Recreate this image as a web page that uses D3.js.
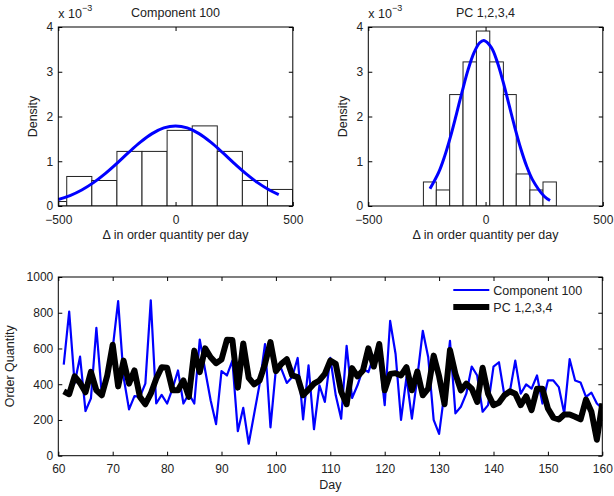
<!DOCTYPE html>
<html lang="en">
<head>
<meta charset="UTF-8">
<title>Order quantity</title>
<style>
    body { margin:0; background:#fff; }
    svg text { font-family: "Liberation Sans", Arial, sans-serif; fill:#222; }
    .axis path { display:none; }
    .axis line { stroke:#000; }
    .axis text { font-size:12px; }
</style>
</head>
<body>
<svg id="chart"></svg>

<script src="https://cdn.jsdelivr.net/npm/d3@7"></script>
<script>

// histogram, Component 100 (density in units of 1e-3)
var leftEdges = [-571, -464, -357, -250, -143, -36, 71, 178, 285, 392, 499];
var leftDensity = [0.10, 0.66, 0.57, 1.22, 1.22, 1.69, 1.79, 1.22, 0.57, 0.37];
var leftFitX = [-500, -450, -400, -350, -300, -250, -200, -150, -100, -50, 0, 50, 100, 150, 200, 250, 300, 350, 400, 440];
var leftFitY = [0.145, 0.234, 0.358, 0.522, 0.724, 0.954, 1.197, 1.427, 1.618, 1.745, 1.789, 1.745, 1.618, 1.427, 1.197, 0.954, 0.724, 0.522, 0.358, 0.256];

// histogram, PC 1,2,3,4
var rightEdges = [-265, -210, -153, -96, -39, 18, 76, 131, 189, 245, 302];
var rightDensity = [0.537, 0.358, 2.49, 3.22, 3.91, 3.22, 2.49, 0.716, 0.358, 0.537];
var rightFitX = [-237, -200, -175, -150, -125, -100, -75, -50, -25, -7, 25, 50, 75, 100, 125, 150, 175, 200, 250, 275];
var rightFitY = [0.383, 0.749, 1.103, 1.539, 2.037, 2.553, 3.035, 3.418, 3.649, 3.70, 3.541, 3.219, 2.774, 2.264, 1.753, 1.286, 0.894, 0.589, 0.218, 0.122];

// time series
var days = d3.range(61, 161);
var component100 = [510, 806, 405, 554, 250, 321, 716, 340, 480, 600,
    865, 440, 259, 333, 330, 403, 869, 292, 340, 292,
    375, 477, 292, 347, 292, 650, 477, 310, 177, 473,
    449, 532, 137, 268, 67, 233, 400, 625, 159, 486,
    486, 407, 440, 547, 203, 505, 148, 394, 301, 547,
    338, 207, 615, 323, 394, 486, 468, 560, 560, 283,
    754, 569, 200, 440, 207, 440, 699, 551, 200, 122,
    357, 643, 237, 274, 347, 499, 449, 246, 283, 499,
    523, 338, 357, 532, 347, 399, 375, 449, 292, 421,
    421, 384, 237, 540, 421, 410, 329, 353, 292, 264];
var pc1234 = [360, 344, 444, 407, 355, 469, 366, 338, 449, 621,
    388, 532, 403, 477, 329, 288, 347, 431, 495, 492,
    366, 366, 421, 329, 588, 468, 601, 551, 518, 538,
    649, 647, 381, 628, 436, 399, 421, 514, 636, 473,
    514, 540, 449, 440, 338, 370, 403, 421, 458, 532,
    514, 357, 288, 490, 444, 477, 601, 499, 625, 366,
    458, 462, 449, 495, 366, 471, 338, 375, 560, 444,
    288, 591, 458, 366, 403, 375, 301, 492, 347, 283,
    296, 338, 360, 347, 283, 333, 255, 375, 375, 264,
    213, 203, 231, 231, 218, 203, 314, 246, 89, 292];

var histTicksX = [-500, 0, 500];
var histTicksY = [0, 1, 2, 3, 4];
var seriesTicksX = d3.range(60, 161, 10);
var seriesTicksY = [0, 200, 400, 600, 800, 1000];

var svgWidth = 614, svgHeight = 496;
var svg = d3.select('#chart')
    .attr('width', svgWidth)
    .attr('height', svgHeight);

var tick = 4;
var fmt = d3.format('d');

function drawBox(g, w, h, xScale, yScale, xTicks, yTicks) {
    g.append('g').attr('class', 'axis')
        .attr('transform', 'translate(0,' + h + ')')
        .call(d3.axisBottom(xScale).tickValues(xTicks).tickSize(-tick).tickPadding(9).tickFormat(fmt));
    g.append('g').attr('class', 'axis')
        .call(d3.axisTop(xScale).tickValues(xTicks).tickSize(-tick).tickFormat(''));
    g.append('g').attr('class', 'axis')
        .call(d3.axisLeft(yScale).tickValues(yTicks).tickSize(-tick).tickPadding(5).tickFormat(fmt));
    g.append('g').attr('class', 'axis')
        .attr('transform', 'translate(' + w + ',0)')
        .call(d3.axisRight(yScale).tickValues(yTicks).tickSize(-tick).tickFormat(''));
    g.append('rect')
        .attr('width', w).attr('height', h)
        .style('fill', 'none').style('stroke', '#000').style('stroke-width', 1);
}

function drawHist(left, title, edges, dens, fitX, fitY, clipId) {
    var top = 27, w = 234.5, h = 179;
    var g = svg.append('g').attr('transform', 'translate(' + left + ',' + top + ')');

    var x = d3.scaleLinear().domain([-500, 500]).range([0, w]);
    var y = d3.scaleLinear().domain([0, 4]).range([h, 0]);

    g.append('clipPath').attr('id', clipId)
        .append('rect').attr('width', w).attr('height', h);

    var bins = dens.map(function (d, i) { return { x0: edges[i], x1: edges[i + 1], d: d }; });

    g.append('g').attr('clip-path', 'url(#' + clipId + ')')
        .selectAll('rect')
        .data(bins)
        .enter()
        .append('rect')
        .attr('x', function (b) { return x(b.x0); })
        .attr('y', function (b) { return y(b.d); })
        .attr('width', function (b) { return x(b.x1) - x(b.x0); })
        .attr('height', function (b) { return y(0) - y(b.d); })
        .style('fill', '#fff')
        .style('stroke', '#222')
        .style('stroke-width', 1);

    var line = d3.line()
        .x(function (d) { return x(d[0]); })
        .y(function (d) { return y(d[1]); })
        .curve(d3.curveCatmullRom);

    g.append('path')
        .datum(d3.zip(fitX, fitY))
        .attr('d', line)
        .style('fill', 'none')
        .style('stroke', '#0000ff')
        .style('stroke-width', 3);

    drawBox(g, w, h, x, y, histTicksX, histTicksY);

    g.append('text')
        .attr('x', w / 2).attr('y', -10)
        .attr('text-anchor', 'middle')
        .style('font-size', '12.5px')
        .text(title);

    var exp = g.append('text').attr('x', 0).attr('y', -9).style('font-size', '12.5px');
    exp.append('tspan').text('x 10');
    exp.append('tspan').attr('dy', -7).style('font-size', '9px').text('\u22123');

    g.append('text')
        .attr('x', w / 2).attr('y', h + 33)
        .attr('text-anchor', 'middle')
        .style('font-size', '12.5px')
        .text('\u0394 in order quantity per day');

    g.append('text')
        .attr('transform', 'translate(' + (-21) + ',' + (h / 2) + ') rotate(-90)')
        .attr('text-anchor', 'middle')
        .style('font-size', '12.5px')
        .text('Density');
}

drawHist(58.3, 'Component 100', leftEdges, leftDensity, leftFitX, leftFitY, 'clipL');
drawHist(368.3, 'PC 1,2,3,4', rightEdges, rightDensity, rightFitX, rightFitY, 'clipR');

// bottom time series
var bLeft = 58.3, bTop = 277, bW = 544, bH = 178.7;
var gb = svg.append('g').attr('transform', 'translate(' + bLeft + ',' + bTop + ')');

var xDay = d3.scaleLinear().domain([60, 160]).range([0, bW]);
var yQty = d3.scaleLinear().domain([0, 1000]).range([bH, 0]);

gb.append('clipPath').attr('id', 'clipB')
    .append('rect').attr('width', bW).attr('height', bH);

var seriesLine = d3.line()
    .x(function (d) { return xDay(d[0]); })
    .y(function (d) { return yQty(d[1]); });

var plot = gb.append('g').attr('clip-path', 'url(#clipB)');

plot.append('path')
    .datum(d3.zip(days, component100))
    .attr('d', seriesLine)
    .style('fill', 'none')
    .style('stroke', '#0000ff')
    .style('stroke-width', 2.2)
    .style('stroke-linejoin', 'round');

plot.append('path')
    .datum(d3.zip(days, pc1234))
    .attr('d', seriesLine)
    .style('fill', 'none')
    .style('stroke', '#000')
    .style('stroke-width', 6)
    .style('stroke-linejoin', 'round');

drawBox(gb, bW, bH, xDay, yQty, seriesTicksX, seriesTicksY);

gb.append('text')
    .attr('x', bW / 2).attr('y', bH + 33)
    .attr('text-anchor', 'middle')
    .style('font-size', '12.5px')
    .text('Day');

gb.append('text')
    .attr('transform', 'translate(' + (-44) + ',' + (bH / 2) + ') rotate(-90)')
    .attr('text-anchor', 'middle')
    .style('font-size', '12.5px')
    .text('Order Quantity');

// legend
var legend = [
    { name: 'Component 100', color: '#0000ff', width: 2.2 },
    { name: 'PC 1,2,3,4', color: '#000', width: 6 }
];

var lg = gb.selectAll('.legend')
    .data(legend)
    .enter()
    .append('g')
    .attr('class', 'legend')
    .attr('transform', function (d, i) { return 'translate(' + (bW - 149) + ',' + (13 + i * 17) + ')'; });

lg.append('line')
    .attr('x1', 0).attr('x2', 36)
    .style('stroke', function (d) { return d.color; })
    .style('stroke-width', function (d) { return d.width; });

lg.append('text')
    .attr('x', 40).attr('y', 4.5)
    .style('font-size', '12.5px')
    .text(function (d) { return d.name; });

</script>
</body>
</html>
